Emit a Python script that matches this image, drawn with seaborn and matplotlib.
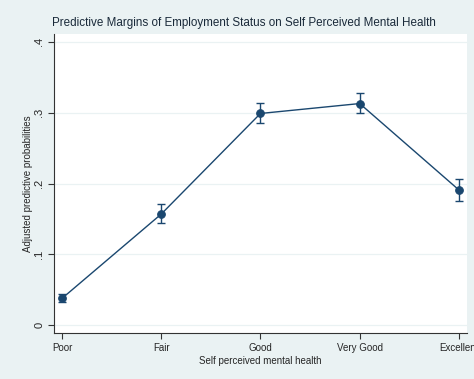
import numpy as np
import pandas as pd
import matplotlib
matplotlib.use("Agg")
import matplotlib.pyplot as plt
import seaborn as sns

categories = ["Poor", "Fair", "Good", "Very Good", "Excellent"]
margin = [0.038, 0.157, 0.299, 0.313, 0.191]
ci_low = [0.033, 0.144, 0.285, 0.299, 0.176]
ci_high = [0.044, 0.171, 0.314, 0.328, 0.206]

df = pd.DataFrame({"pos": range(len(categories)), "cat": categories,
                   "margin": margin, "lo": ci_low, "hi": ci_high})

bg = "#eaf2f3"
navy = "#1a476f"

sns.set_style("ticks")
plt.rcParams["font.family"] = ["Liberation Sans", "DejaVu Sans"]

fig = plt.figure(figsize=(4.74, 3.79), dpi=100, facecolor=bg)
ax = fig.add_axes([0.114, 0.121, 0.871, 0.789])
ax.set_facecolor("white")

for y in [0, 0.1, 0.2, 0.3, 0.4]:
    ax.axhline(y, color=bg, lw=0.9, zorder=0)

ax.errorbar(df["pos"], df["margin"],
            yerr=[df["margin"] - df["lo"], df["hi"] - df["margin"]],
            fmt="none", ecolor=navy, elinewidth=1, capsize=3, capthick=1, zorder=2)
sns.lineplot(data=df, x="pos", y="margin", ax=ax, color=navy, lw=1,
             marker="o", markersize=5.5, markeredgecolor=navy, zorder=3)

ax.set_xlim(-0.08, 4.08)
ax.set_ylim(-0.011, 0.411)
ax.set_xticks(df["pos"])
ax.set_xticklabels(categories, fontsize=7)
ax.set_yticks([0, 0.1, 0.2, 0.3, 0.4])
ax.set_yticklabels(["0", ".1", ".2", ".3", ".4"], fontsize=8, rotation=90, va="center")
ax.tick_params(axis="both", direction="out", length=4, width=0.8, color="#333333", pad=3,
               bottom=True, left=True)

for s in ["top", "right"]:
    ax.spines[s].set_visible(False)
for s in ["left", "bottom"]:
    ax.spines[s].set_color("#333333")
    ax.spines[s].set_linewidth(0.8)

ax.set_xlabel("Self perceived mental health", fontsize=7, labelpad=2)
ax.set_ylabel("Adjusted predictive probabilities", fontsize=7, labelpad=1)
fig.text(0.11, 0.94, "Predictive Margins of Employment Status on Self Perceived Mental Health",
         fontsize=8.4, color="#1a2a3a", va="center")

fig.savefig("out.png", dpi=100, facecolor=bg)
